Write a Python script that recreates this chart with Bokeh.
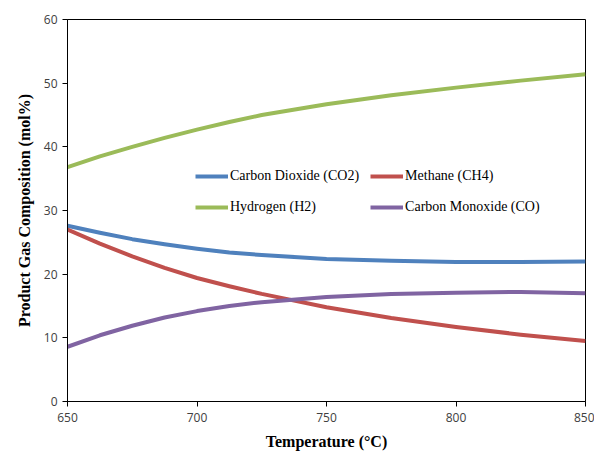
from bokeh.plotting import figure
from bokeh.models import Legend, LegendItem, FixedTicker, Range1d
from bokeh.embed import file_html
from bokeh.resources import INLINE

temperature = [650, 662.5, 675, 687.5, 700, 712.5, 725, 750, 775, 800, 825, 850]
co2 = [27.6, 26.5, 25.5, 24.7, 24.0, 23.4, 23.0, 22.4, 22.1, 21.9, 21.9, 22.0]
ch4 = [27.0, 24.8, 22.8, 21.0, 19.4, 18.1, 16.9, 14.8, 13.1, 11.7, 10.5, 9.5]
h2 = [36.8, 38.5, 40.0, 41.4, 42.7, 43.9, 45.0, 46.7, 48.1, 49.3, 50.4, 51.4]
co = [8.6, 10.4, 11.9, 13.2, 14.2, 15.0, 15.6, 16.4, 16.9, 17.1, 17.2, 17.0]

x_ticks = [650, 700, 750, 800, 850]
y_ticks = [0, 10, 20, 30, 40, 50, 60]

p = figure(width=594, height=452, output_backend="svg", toolbar_location=None,
           x_range=Range1d(650, 850), y_range=Range1d(0, 60),
           min_border_left=67, min_border_top=19, min_border_right=9, min_border_bottom=51)

p.xgrid.visible = False
p.ygrid.visible = False
p.outline_line_color = "black"
p.outline_line_width = 1

series = {
    "co2": ("Carbon Dioxide (CO2)", co2, "#4F81BD"),
    "ch4": ("Methane (CH4)", ch4, "#C0504D"),
    "h2": ("Hydrogen (H2)", h2, "#9BBB59"),
    "co": ("Carbon Monoxide (CO)", co, "#8064A2"),
}
items = {}
for key, (label, ys, color) in series.items():
    r = p.line(temperature, ys, line_color=color, line_width=4, line_join="round")
    items[key] = LegendItem(label=label, renderers=[r])

for ax in (p.xaxis[0], p.yaxis[0]):
    ax.axis_line_color = "black"
    ax.major_tick_line_color = "black"
    ax.major_tick_in = 0
    ax.major_tick_out = 5
    ax.minor_tick_line_color = None
    ax.major_label_text_font = "Open Sans"
    ax.major_label_text_font_size = "12px"
    ax.major_label_text_color = "#404040"
    ax.axis_label_text_font = "Liberation Serif"
    ax.axis_label_text_font_style = "bold"
    ax.axis_label_text_font_size = "16px"
    ax.axis_label_text_color = "black"

p.xaxis.ticker = FixedTicker(ticks=x_ticks)
p.yaxis.ticker = FixedTicker(ticks=y_ticks)
p.xaxis.axis_label = "Temperature (°C)"
p.yaxis.axis_label = "Product Gas Composition (mol%)"
p.xaxis.major_label_standoff = 6
p.yaxis.major_label_standoff = 5
p.xaxis.axis_label_standoff = 8
p.yaxis.axis_label_standoff = 8

legend = Legend(items=[items["co2"], items["h2"], items["ch4"], items["co"]],
                ncols=2, location=(128, 184),
                border_line_color=None, background_fill_alpha=0,
                padding=0, margin=0, spacing=11, glyph_width=33, glyph_height=20,
                label_height=20, label_standoff=2, label_text_font="Liberation Serif",
                label_text_font_size="14px", label_text_color="black")
p.add_layout(legend)

open("out.html", "w").write(file_html(p, INLINE))
